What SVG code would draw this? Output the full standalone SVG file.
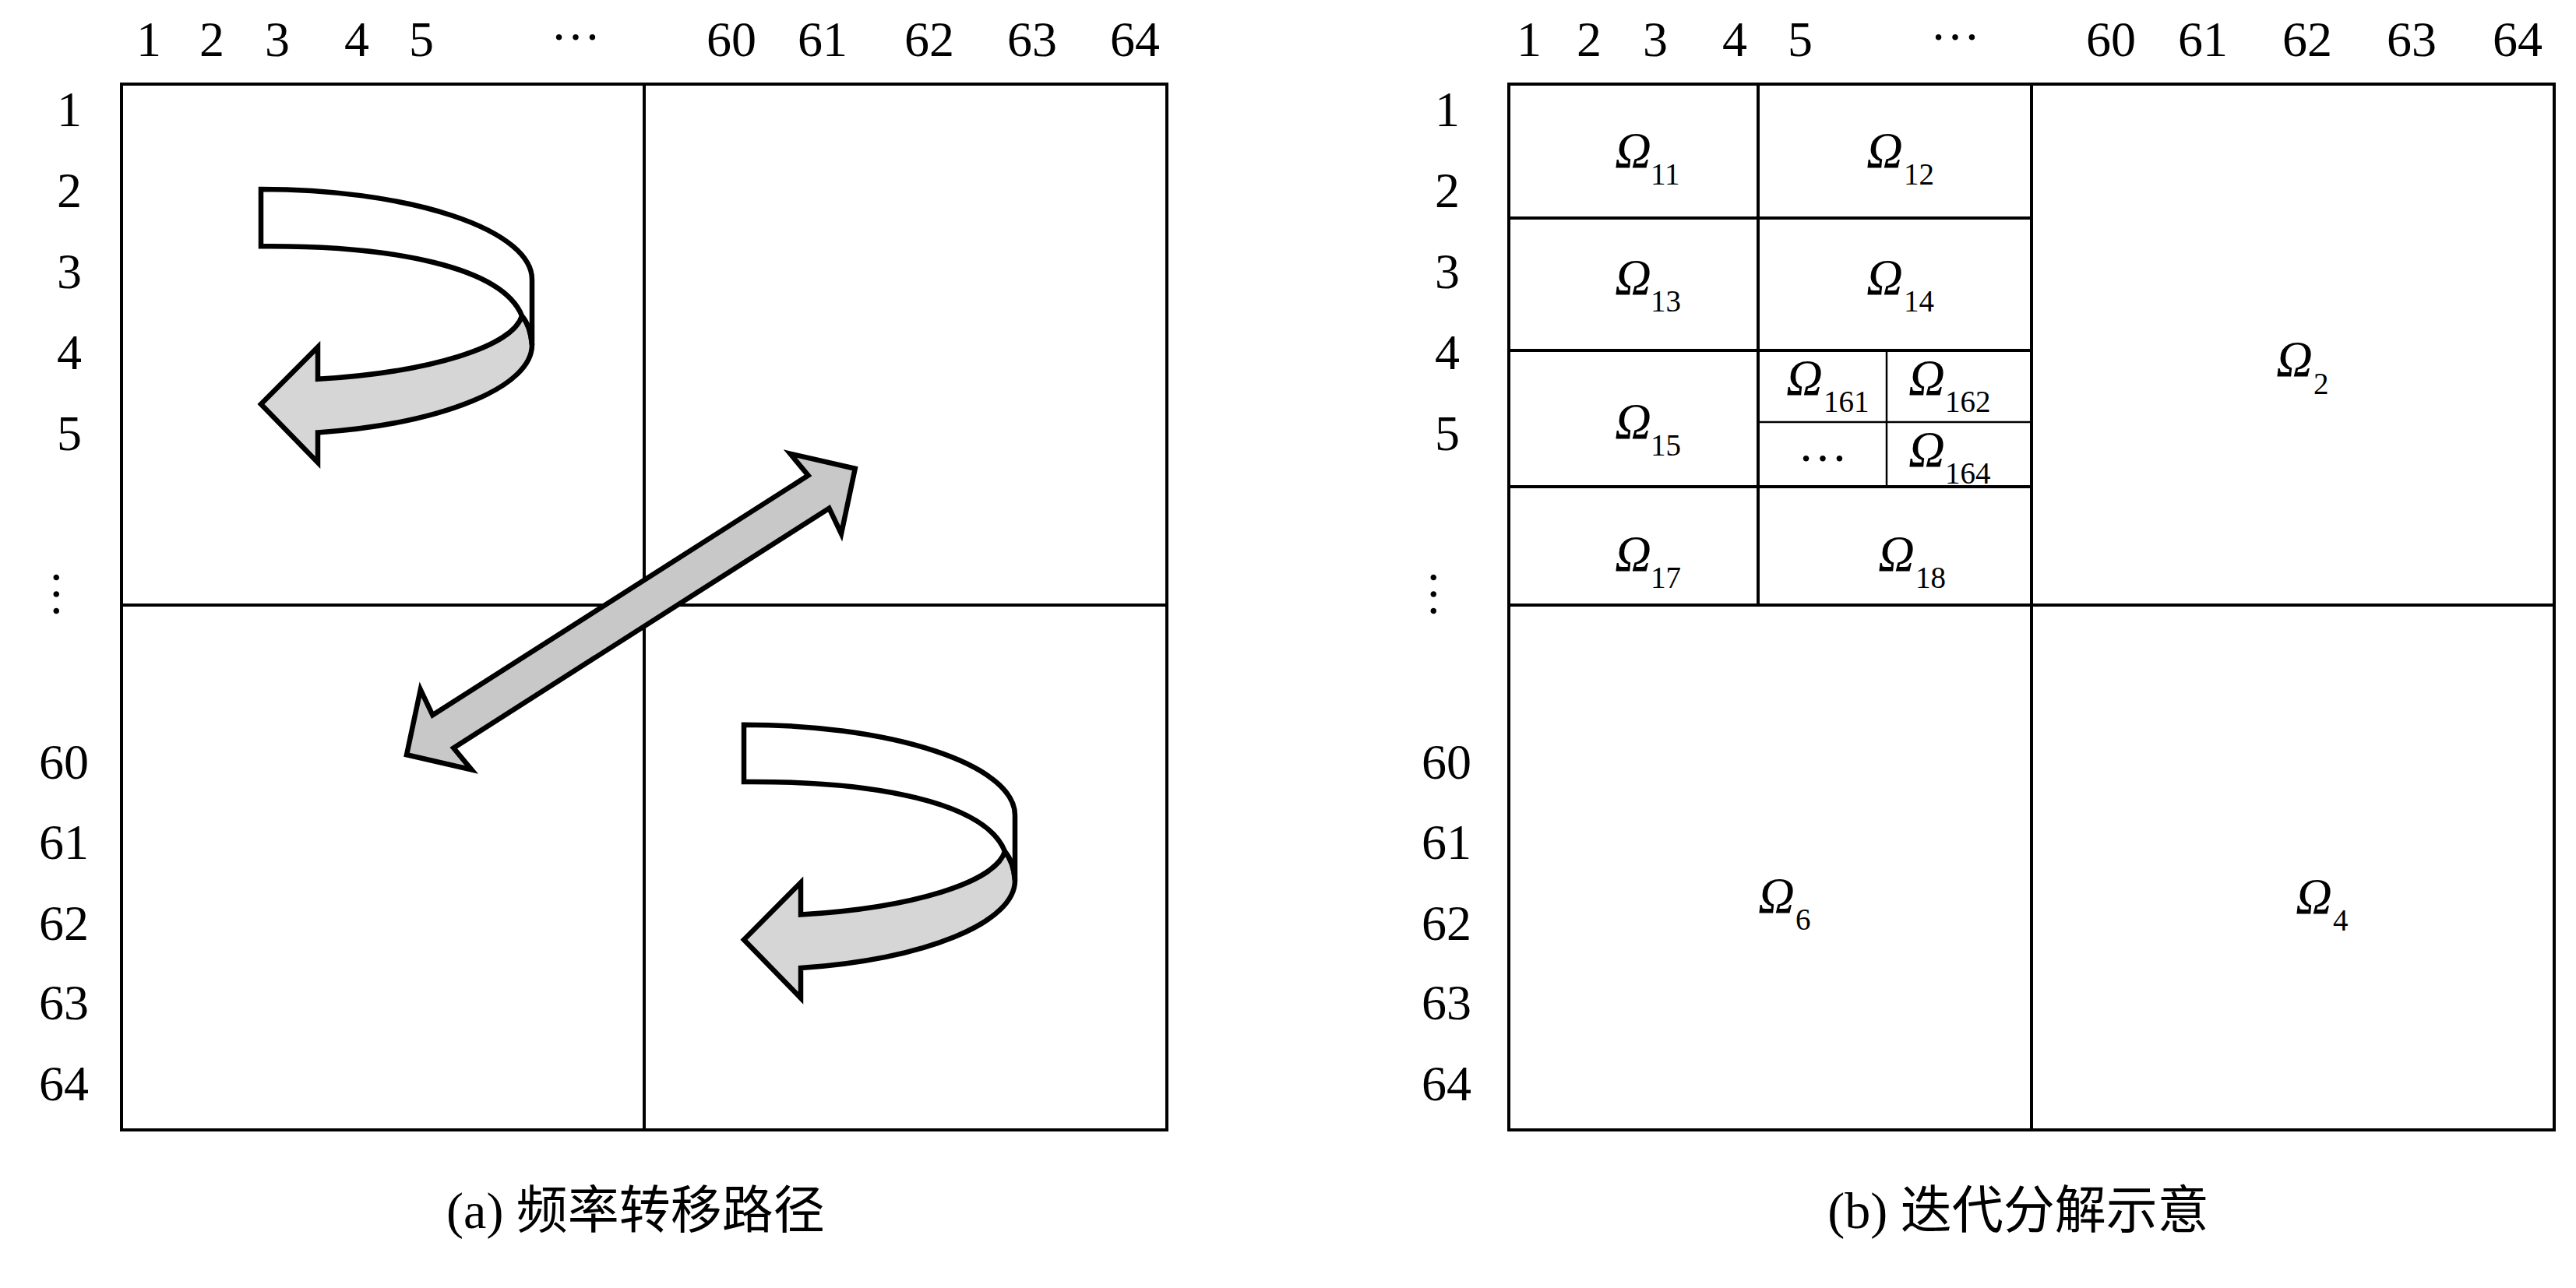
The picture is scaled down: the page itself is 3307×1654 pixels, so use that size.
<svg xmlns="http://www.w3.org/2000/svg" xmlns:xlink="http://www.w3.org/1999/xlink" width="3307" height="1654" viewBox="0 0 3307 1654">
<style>
.lbl{font-family:"Liberation Serif","Times New Roman",serif;font-size:64px;fill:#000;text-anchor:middle}
.om{font-family:"Liberation Serif","Times New Roman",serif;font-size:65px;font-style:italic;fill:#000}
.sub{font-family:"Liberation Serif","Times New Roman",serif;font-size:39px;fill:#000}
.cap{font-family:"Liberation Serif","Times New Roman","Noto Sans CJK SC",sans-serif;font-size:66px;fill:#000;text-anchor:middle}
.grid{fill:none;stroke:#000;stroke-width:4}
.thin{fill:none;stroke:#000;stroke-width:2.5}
.band{fill:#fff;stroke:#000;stroke-width:6.5;stroke-linejoin:miter}
.back{fill:#d6d6d6;stroke:#000;stroke-width:6.5;stroke-linejoin:miter}
.dbl{fill:#c8c8c8;stroke:#000;stroke-width:6.5;stroke-linejoin:miter}
</style>
<defs>
<g id="curl">
<path class="back" d="M335,162.6 A336 90.7 0 0 1 73,243.8 L73,202.6 L0,276 L73,351 L73,312.4 A348 115 0 0 0 348,200 C347,186 343,172 335,162.6 Z"/>
<path class="band" d="M0,0 A348 116 0 0 1 348,116 L348,200 C347,186 343,172 335,162.6 C310,100 170,72 0,73.3 Z"/>
</g>
</defs>
<rect width="3307" height="1654" fill="#fff"/>

<g id="panel-a">
<g id="grid-a">
<rect class="grid" x="156" y="108" width="1342" height="1343"/>
<line class="grid" x1="827" y1="108" x2="827" y2="1451"/>
<line class="grid" x1="156" y1="777" x2="1498" y2="777"/>
</g>
<g id="cols-a" class="lbl">
<text x="191" y="72">1</text><text x="272" y="72">2</text><text x="356" y="72">3</text><text x="458" y="72">4</text><text x="541" y="72">5</text>
<text x="739" y="51">…</text>
<text x="939" y="72">60</text><text x="1056" y="72">61</text><text x="1193" y="72">62</text><text x="1325" y="72">63</text><text x="1457" y="72">64</text>
</g>
<g id="rows-a" class="lbl">
<text x="89" y="162">1</text><text x="89" y="266">2</text><text x="89" y="370">3</text><text x="89" y="474">4</text><text x="89" y="578">5</text>
<text transform="translate(73,763) rotate(90)" x="0" y="4">…</text>
<text x="82" y="1000">60</text><text x="82" y="1103">61</text><text x="82" y="1207">62</text><text x="82" y="1309">63</text><text x="82" y="1413">64</text>
</g>
<g id="connectors">
<use id="curl-top" xlink:href="#curl" href="#curl" transform="translate(335,243)"/>
<path id="double-arrow" class="dbl" transform="translate(809.9,785.5) rotate(-32.55)" d="M341.5,0 L281.5,-61 L286,-25 L-286,-25 L-281.5,-61 L-341.5,0 L-281.5,61 L-286,25 L286,25 L281.5,61 Z"/>
<use id="curl-bottom" xlink:href="#curl" href="#curl" transform="translate(955,930.7)"/>
</g>
<text id="cap-a" class="cap" x="816" y="1577">(a) 频率转移路径</text>
</g>

<g id="panel-b">
<g id="grid-b">
<rect class="grid" x="1937" y="108" width="1342" height="1343"/>
<line class="grid" x1="2608" y1="108" x2="2608" y2="1451"/>
<line class="grid" x1="1937" y1="777" x2="3279" y2="777"/>
<line class="grid" x1="2257" y1="108" x2="2257" y2="777"/>
<line class="grid" x1="1937" y1="280" x2="2608" y2="280"/>
<line class="grid" x1="1937" y1="450" x2="2608" y2="450"/>
<line class="grid" x1="1937" y1="625" x2="2608" y2="625"/>
<line class="thin" x1="2422" y1="450" x2="2422" y2="625"/>
<line class="thin" x1="2257" y1="542" x2="2608" y2="542"/>
</g>
<g id="cols-b" class="lbl">
<text x="1963" y="72">1</text><text x="2040" y="72">2</text><text x="2125" y="72">3</text><text x="2227" y="72">4</text><text x="2311" y="72">5</text>
<text x="2510" y="51">…</text>
<text x="2710" y="72">60</text><text x="2828" y="72">61</text><text x="2962" y="72">62</text><text x="3096" y="72">63</text><text x="3232" y="72">64</text>
</g>
<g id="rows-b" class="lbl">
<text x="1858" y="162">1</text><text x="1858" y="266">2</text><text x="1858" y="370">3</text><text x="1858" y="474">4</text><text x="1858" y="578">5</text>
<text transform="translate(1841,763) rotate(90)" x="0" y="4">…</text>
<text x="1857" y="1000">60</text><text x="1857" y="1103">61</text><text x="1857" y="1207">62</text><text x="1857" y="1309">63</text><text x="1857" y="1413">64</text>
</g>
<g id="n11"><text class="om" x="2073" y="215">Ω</text><text class="sub" x="2119" y="237">11</text></g>
<g id="n12"><text class="om" x="2396" y="215">Ω</text><text class="sub" x="2444" y="237">12</text></g>
<g id="n13"><text class="om" x="2073" y="378">Ω</text><text class="sub" x="2119" y="400">13</text></g>
<g id="n14"><text class="om" x="2396" y="378">Ω</text><text class="sub" x="2444" y="400">14</text></g>
<g id="n161"><text class="om" x="2293" y="507">Ω</text><text class="sub" x="2341" y="529">161</text></g>
<g id="n162"><text class="om" x="2450" y="507">Ω</text><text class="sub" x="2497" y="529">162</text></g>
<g id="n16x"><text class="lbl" x="2340" y="592">…</text></g>
<g id="n164"><text class="om" x="2450" y="599">Ω</text><text class="sub" x="2497" y="621">164</text></g>
<g id="n15"><text class="om" x="2073" y="563">Ω</text><text class="sub" x="2119" y="585">15</text></g>
<g id="n17"><text class="om" x="2073" y="733">Ω</text><text class="sub" x="2119" y="755">17</text></g>
<g id="n18"><text class="om" x="2411" y="733">Ω</text><text class="sub" x="2459" y="755">18</text></g>
<g id="n2"><text class="om" x="2922" y="483">Ω</text><text class="sub" x="2970" y="506">2</text></g>
<g id="n6"><text class="om" x="2257" y="1172">Ω</text><text class="sub" x="2305" y="1194">6</text></g>
<g id="n4"><text class="om" x="2947" y="1173">Ω</text><text class="sub" x="2995" y="1195">4</text></g>
<text id="cap-b" class="cap" x="2591" y="1577">(b) 迭代分解示意</text>
</g>
</svg>
